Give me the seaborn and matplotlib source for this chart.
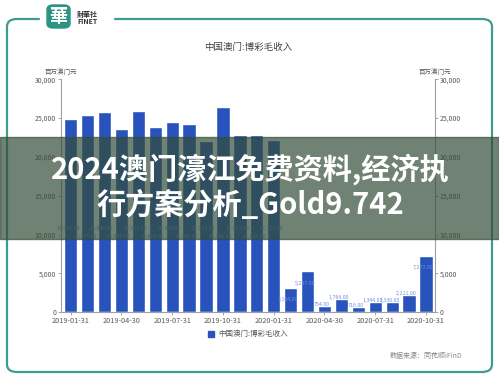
import numpy as np
import pandas as pd
import matplotlib
matplotlib.use("Agg")
import matplotlib.pyplot as plt
import seaborn as sns
from matplotlib.patches import FancyBboxPatch, Rectangle

# ------------------------------------------------------------------
# Datos (millones de patacas)
# ------------------------------------------------------------------
MONTHS = ["2019-01-31", "2019-02-28", "2019-03-31", "2019-04-30", "2019-05-31",
          "2019-06-30", "2019-07-31", "2019-08-31", "2019-09-30", "2019-10-31",
          "2019-11-30", "2019-12-31", "2020-01-31", "2020-02-29", "2020-03-31",
          "2020-04-30", "2020-05-31", "2020-06-30", "2020-07-31", "2020-08-31",
          "2020-09-30", "2020-10-31"]
GGR = [24942, 25370, 25840, 23588, 25952, 23812, 24453, 24262, 22079, 26443,
       22877, 22838, 22126, 3104, 5257, 754, 1764, 716, 1344, 1330, 2211, 7273]
Y_TICKS = [0, 5000, 10000, 15000, 20000, 25000, 30000]
TICK_EVERY = 3

TITLE = "中国澳门:博彩毛收入"
UNIT = "百万澳门元"
SOURCE = "数据来源：同花顺iFinD"
BANNER = "2024澳门濠江免费资料,经济执\n行方案分析_Gold9.742"

BAR_COLOR = "#2853bd"
TEAL = "#3f9c8f"
GREY = "#595959"

sns.set_theme(style="white")
plt.rcParams["font.family"] = ["Noto Sans CJK SC", "DejaVu Sans"]

df = pd.DataFrame({"fecha": MONTHS, "valor": GGR})

fig = plt.figure(figsize=(4.99, 3.77), dpi=100)
fig.patch.set_facecolor("white")
ax = fig.add_axes([61 / 499, 1 - 312.3 / 377, (435 - 61) / 499, (312.3 - 79.3) / 377])

sns.barplot(data=df, x="fecha", y="valor", color=BAR_COLOR, saturation=1,
            width=0.79, ax=ax)
ax.set_xlim(-0.57, len(MONTHS) - 1 + 0.53)
ax.set_ylim(0, 30000)
ax.set_xlabel("")
ax.set_ylabel("")

pos = list(range(0, len(MONTHS), TICK_EVERY))
ax.set_xticks(pos)
ax.set_xticklabels([MONTHS[i] for i in pos], fontsize=5.3, color=GREY)
ax.set_yticks(Y_TICKS)
ax.set_yticklabels([f"{v:,}" for v in Y_TICKS], fontsize=5, color=GREY)
ax.tick_params(axis="both", length=2, width=0.6, color="#999999", pad=1.5,
               left=True, bottom=True)

for s in ["top", "right"]:
    ax.spines[s].set_visible(False)
for s in ["left", "bottom"]:
    ax.spines[s].set_color("#a0a0a0")
    ax.spines[s].set_linewidth(0.8)

ax2 = ax.twinx()
ax2.set_ylim(0, 30000)
ax2.set_yticks(Y_TICKS)
ax2.set_yticklabels([f"{v:,}" for v in Y_TICKS], fontsize=5, color=GREY)
ax2.tick_params(axis="y", length=2, width=0.6, color="#999999", pad=1.5, right=True)
for s in ["top", "left", "bottom"]:
    ax2.spines[s].set_visible(False)
ax2.spines["right"].set_color("#a0a0a0")
ax2.spines["right"].set_linewidth(0.8)

# etiquetas de datos
for i, v in enumerate(GGR):
    if v > 20000:
        yy = 10800 if i % 2 == 0 else 9800
    elif v > 2500:
        yy = v - 1500
    else:
        yy = v + 200
    ax.text(i - 0.15, yy, f"{v:,.2f}", fontsize=3.8, color="#6f8fe0",
            ha="center", va="center", zorder=5)

ax.text(0, 1.015, UNIT, transform=ax.transAxes, fontsize=4.7, color=GREY,
        ha="center", va="bottom")
ax.text(1, 1.015, UNIT, transform=ax.transAxes, fontsize=4.7, color=GREY,
        ha="center", va="bottom")

fig.text(248 / 499, 1 - 47.7 / 377, TITLE, fontsize=6.8, color="#404040",
         ha="center", va="center")

# leyenda
fig.patches.append(Rectangle((208 / 499, 1 - 336.5 / 377), 6 / 499, 6 / 377,
                             transform=fig.transFigure, color=BAR_COLOR))
fig.text(218 / 499, 1 - 333.5 / 377, TITLE, fontsize=5.4, color=GREY,
         ha="left", va="center")
fig.text(462 / 499, 1 - 356 / 377, SOURCE, fontsize=5, color="#888888",
         ha="right", va="center")

# marco
fig.patches.append(FancyBboxPatch((7 / 499, 1 - 372 / 377), (492 - 7) / 499,
                                  (372 - 19) / 377,
                                  boxstyle="round,pad=0,rounding_size=0.02",
                                  transform=fig.transFigure, fill=False,
                                  edgecolor=TEAL, linewidth=1.6))
fig.patches.append(Rectangle((40 / 499, 1 - 24 / 377), 73 / 499, 10 / 377,
                             transform=fig.transFigure, color="white", zorder=3))
fig.patches.append(FancyBboxPatch((47 / 499, 1 - 28 / 377), 23 / 499, 23 / 377,
                                  boxstyle="round,pad=0,rounding_size=0.012",
                                  transform=fig.transFigure, color="#2e9385",
                                  zorder=4))
fig.text(58.5 / 499, 1 - 16.5 / 377, "華", fontsize=13, color="white",
         fontweight="bold", ha="center", va="center", zorder=5)
fig.text(77 / 499, 1 - 14 / 377, "財華社", fontsize=5, color="#333333",
         fontweight="bold", ha="left", va="center", zorder=5)
fig.text(77 / 499, 1 - 21.5 / 377, "FINET", fontsize=5, color="#333333",
         fontweight="bold", ha="left", va="center", zorder=5)

# franja superpuesta
fig.patches.append(Rectangle((0, 1 - 239 / 377), 1, (239 - 137) / 377,
                             transform=fig.transFigure, color="#334d38",
                             alpha=0.7, zorder=10))
fig.text(250 / 499, 1 - 187 / 377, BANNER, fontsize=21, color="white",
         fontweight="bold", ha="center", va="center", linespacing=1.2,
         zorder=11)

fig.savefig("out.png", dpi=100)
